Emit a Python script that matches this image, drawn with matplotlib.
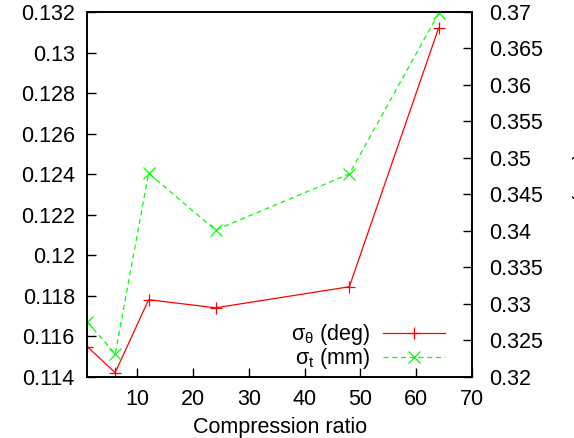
import matplotlib
matplotlib.use("Agg")
import matplotlib.pyplot as plt
from matplotlib.lines import Line2D

plt.rcParams['font.family'] = ['Liberation Sans', 'DejaVu Sans']
plt.rcParams['mathtext.fontset'] = 'custom'
plt.rcParams['mathtext.rm'] = 'Liberation Sans'
plt.rcParams['mathtext.it'] = 'Liberation Sans'

compression = [1, 6, 12, 24, 48, 64]
sigma_theta = [0.11548, 0.1142, 0.1178, 0.1174, 0.11844, 0.1312]
sigma_t = [0.3275, 0.3231, 0.3479, 0.3401, 0.3478, 0.3698]

left_ticks = [0.114, 0.116, 0.118, 0.12, 0.122, 0.124, 0.126, 0.128, 0.13, 0.132]
right_ticks = [0.32, 0.325, 0.33, 0.335, 0.34, 0.345, 0.35, 0.355, 0.36, 0.365, 0.37]
x_ticks = [10, 20, 30, 40, 50, 60, 70]

W, H = 574, 438
fig = plt.figure(figsize=(W / 100, H / 100), dpi=100)
ax = fig.add_axes([87.3 / W, 1 - 376.7 / H, (472 - 87.3) / W, (376.7 - 12) / H])
ax2 = ax.twinx()

fs = 15.5
ax.plot(compression, sigma_theta, color='#ff0000', lw=0.9, marker='+', ms=9, mew=0.9)
ax2.plot(compression, sigma_t, color='#00ff00', lw=0.9, ls=(0, (4, 3)), marker='x', ms=8, mew=0.9)

ax.set_xlim(1, 70)
ax.set_ylim(0.114, 0.132)
ax2.set_ylim(0.32, 0.37)
ax.set_xticks(x_ticks)
ax.set_xticklabels([str(t) for t in x_ticks], fontsize=fs)
ax.set_yticks(left_ticks)
ax.set_yticklabels([f"{t:g}" for t in left_ticks], fontsize=fs)
ax2.set_yticks(right_ticks)
ax2.set_yticklabels([f"{t:g}" for t in right_ticks], fontsize=fs)

ax.tick_params(axis='both', direction='in', length=6.5, width=1.0)
ax.tick_params(axis='x', top=False, pad=9)
ax.tick_params(axis='y', right=False, pad=9)
ax2.tick_params(axis='y', direction='in', length=6.5, width=1.0, pad=12)
for a in (ax, ax2):
    for s in a.spines.values():
        s.set_linewidth(1.2)

ax.set_xlabel("Compression ratio", fontsize=fs, labelpad=5)

# legend
handles = [
    Line2D([], [], color='#ff0000', lw=0.9, marker='+', ms=9, mew=0.9),
    Line2D([], [], color='#00ff00', lw=0.9, ls=(0, (4, 3)), marker='x', ms=8, mew=0.9),
]
labels = [r"$\sigma_{\theta}$ (deg)", r"$\sigma_{t}$ (mm)"]
leg = ax.legend(handles, labels, loc='lower right', frameon=False, fontsize=fs,
                markerfirst=False, handlelength=2.9, handletextpad=0.6,
                labelspacing=-0.05, borderpad=0, borderaxespad=0,
                bbox_to_anchor=(0.93, 0.015))

# right axis label, mostly clipped by the figure edge (as in the reference)
fig.text(571 / W, 1 - 190 / H, r"$\sigma_{t}$ (mm)", rotation=90, ha='left', va='center', fontsize=fs)

fig.savefig("out.png", dpi=100)
